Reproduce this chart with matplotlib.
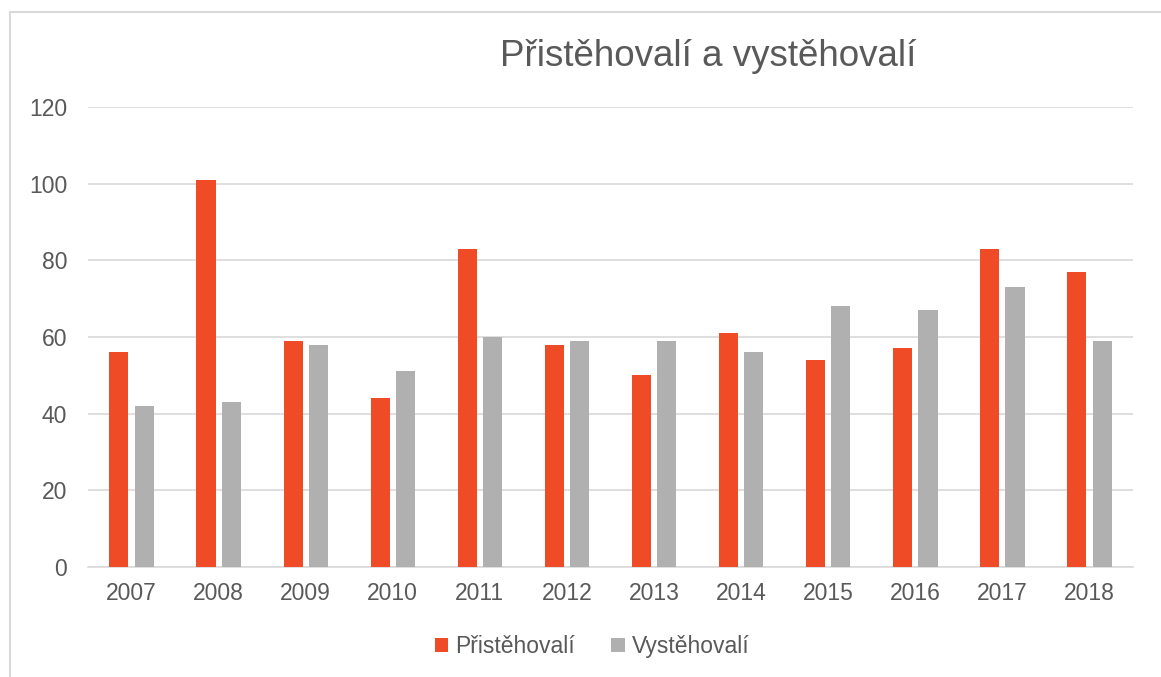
import matplotlib.pyplot as plt
import numpy as np

years = ['2007', '2008', '2009', '2010', '2011', '2012',
         '2013', '2014', '2015', '2016', '2017', '2018']
pristehovali = [56, 101, 59, 44, 83, 58, 50, 61, 54, 57, 83, 77]
vystehovali = [42, 43, 58, 51, 60, 59, 59, 56, 68, 67, 73, 59]

plt.rcParams['font.family'] = ['Liberation Sans', 'DejaVu Sans']
text_color = '#595959'

fig = plt.figure(figsize=(11.61, 6.77), dpi=100)
ax = fig.add_axes([0.0758, 0.1625, 0.9001, 0.6795])

# chart frame
fig.patches.append(plt.Rectangle((10 / 1161, -0.1), 1.2, 1 - 12 / 677 + 0.1,
                                 transform=fig.transFigure, fill=False,
                                 edgecolor='#D9D9D9', linewidth=1.5))

x = np.arange(len(years))
w = 0.22
ax.bar(x - 0.145, pristehovali, w, color='#EE4B26', label='Přistěhovalí', zorder=3)
ax.bar(x + 0.145, vystehovali, w, color='#B0B0B0', label='Vystěhovalí', zorder=3)

ax.set_xlim(-0.5, len(years) - 0.5)
ax.set_ylim(0, 120)
ax.set_yticks(range(0, 121, 20))
ax.set_xticks(x)
ax.set_xticklabels(years)
ax.yaxis.grid(True, color='#D9D9D9', linewidth=1.2, zorder=0)
for s in ['top', 'right', 'left']:
    ax.spines[s].set_visible(False)
ax.spines['bottom'].set_color('#D9D9D9')
ax.spines['bottom'].set_linewidth(1.2)
ax.tick_params(length=0, labelsize=16.5, colors=text_color, pad=11)
ax.tick_params(axis='y', pad=15)

fig.text(0.61, 0.917, 'Přistěhovalí a vystěhovalí', ha='center', va='center',
         fontsize=26.5, color=text_color)

fig.legend(loc='center', bbox_to_anchor=(0.51, 0.045), ncol=2, frameon=False,
           fontsize=16.5, labelcolor=text_color, handlelength=0.6, handleheight=0.6,
           handletextpad=0.3, columnspacing=1.6)

plt.savefig('out.png')
